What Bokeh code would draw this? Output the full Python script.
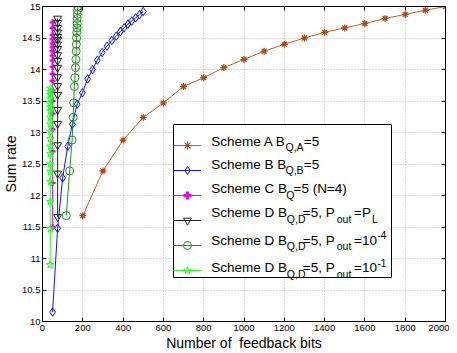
from bokeh.plotting import figure
from bokeh.models import (Range1d, FixedTicker, LinearAxis, Legend, LegendItem,
                          Label, CustomJSTickFormatter, BoxAnnotation)
from bokeh.embed import file_html
from bokeh.resources import INLINE

# ---------------- data ----------------
x_ticks = [0, 200, 400, 600, 800, 1000, 1200, 1400, 1600, 1800, 2000]
y_ticks = [10, 10.5, 11, 11.5, 12, 12.5, 13, 13.5, 14, 14.5, 15]
y_tick_labels = ["10", "10.5", "11", "11.5", "12", "12.5", "13", "13.5", "14", "14.5", "15"]

scheme_a_bits = [200, 300, 400, 500, 600, 700, 800, 900, 1000, 1100, 1200, 1300,
                 1400, 1500, 1600, 1700, 1800, 1900, 2000]
scheme_a_rate = [11.68, 12.39, 12.88, 13.24, 13.47, 13.73, 13.87, 14.03, 14.16, 14.29,
                 14.40, 14.50, 14.59, 14.66, 14.73, 14.81, 14.875, 14.94, 15.0]

scheme_b_bits = [50, 75, 100, 125, 148, 172, 198, 224, 248, 272, 296, 320, 344, 366,
                 386, 405, 424, 443, 462, 481, 500]
scheme_b_rate = [10.15, 11.48, 12.28, 12.78, 13.13, 13.45, 13.63, 13.85, 14.0, 14.15,
                 14.27, 14.37, 14.46, 14.53, 14.6, 14.66, 14.72, 14.77, 14.82, 14.87, 14.92]

scheme_c_bits = [50, 50, 50, 50, 50, 50, 50, 50, 50, 50, 50, 50, 50, 50, 50, 50, 50, 50, 50]
scheme_c_rate = [11.5, 12.2, 12.7, 13.05, 13.3, 13.5, 13.67, 13.82, 13.93, 14.04, 14.14,
                 14.22, 14.29, 14.35, 14.41, 14.48, 14.55, 14.66, 14.75]

scheme_d_pl_bits = [75, 75, 75, 75, 75, 75, 75, 75, 75, 75, 75, 75, 75, 75, 75, 75, 75, 75, 75]
scheme_d_pl_rate = [11.66, 12.35, 12.80, 13.14, 13.36, 13.60, 13.74, 13.88, 14.03, 14.14,
                    14.23, 14.33, 14.40, 14.47, 14.52, 14.59, 14.66, 14.74, 14.81]

scheme_d_e4_bits = [118, 135, 147, 152, 155, 158, 161, 164, 166, 167, 168, 169, 170, 171,
                    172, 172, 173, 174, 175]
scheme_d_e4_rate = [11.68, 12.39, 12.88, 13.24, 13.47, 13.73, 13.87, 14.03, 14.16, 14.29,
                    14.40, 14.50, 14.59, 14.66, 14.73, 14.81, 14.875, 14.94, 15.0]

scheme_d_e1_bits = [38, 39, 39, 39, 39, 39, 39, 39, 39, 39, 39, 39, 39, 39, 39, 39, 39, 39, 39]
scheme_d_e1_rate = [10.9, 11.47, 11.9, 12.22, 12.38, 12.5, 12.66, 12.78, 12.9, 13.02, 13.13,
                    13.24, 13.34, 13.4, 13.45, 13.54, 13.6, 13.65, 13.7]

# ---------------- style ----------------
FONT = "Liberation Sans"
C_A = "#c0602c"
C_B = "#1010ff"
C_C = "#f000f0"
C_DPL = "#202020"
C_D4 = "#1f901f"
C_D1 = "#22ff22"

p = figure(width=449, height=353, x_range=Range1d(0, 2000), y_range=Range1d(10, 15),
           output_backend="svg", toolbar_location=None,
           min_border_left=0, min_border_right=4, min_border_top=6, min_border_bottom=0)
p.background_fill_color = "white"
p.border_fill_color = "white"
p.outline_line_color = "black"
p.outline_line_width = 1

xt = FixedTicker(ticks=x_ticks, minor_ticks=[])
yt = FixedTicker(ticks=y_ticks, minor_ticks=[])
p.xaxis.ticker = xt
p.yaxis.ticker = yt
p.yaxis.major_label_overrides = {t: s for t, s in zip(y_ticks, y_tick_labels)}

for ax in (p.xaxis[0], p.yaxis[0]):
    ax.major_tick_in = 4
    ax.major_tick_out = 0
    ax.minor_tick_in = 0
    ax.minor_tick_out = 0
    ax.axis_line_color = "black"
    ax.major_tick_line_color = "black"
    ax.major_label_text_font = FONT
    ax.major_label_text_font_size = "9.5px"
    ax.major_label_text_color = "black"
    ax.axis_label_text_font = FONT
    ax.axis_label_text_font_size = "14px"
    ax.axis_label_text_font_style = "normal"
    ax.axis_label_text_color = "black"

p.xaxis.axis_label = "Number of\u00a0 feedback bits"
p.yaxis.axis_label = "Sum rate"
p.xaxis.major_label_standoff = 3
p.xaxis.axis_label_standoff = 1
p.yaxis.major_label_standoff = 2
p.yaxis.axis_label_standoff = 0

blank = CustomJSTickFormatter(code="return ''")
top_ax = LinearAxis(ticker=FixedTicker(ticks=x_ticks, minor_ticks=[]), formatter=blank,
                    major_tick_in=4, major_tick_out=0, minor_tick_in=0, minor_tick_out=0,
                    major_label_standoff=0, axis_line_color="black")
right_ax = LinearAxis(ticker=FixedTicker(ticks=y_ticks, minor_ticks=[]), formatter=blank,
                      major_tick_in=4, major_tick_out=0, minor_tick_in=0, minor_tick_out=0,
                      major_label_standoff=0, axis_line_color="black")
p.add_layout(top_ax, "above")
p.add_layout(right_ax, "right")

p.grid.grid_line_color = "#b4b4b4"
p.grid.grid_line_dash = "1 2"
p.grid.grid_line_width = 1
p.xgrid.ticker = xt
p.ygrid.ticker = yt

# ---------------- series ----------------
la = p.line(scheme_a_bits, scheme_a_rate, color=C_A, line_width=1)
p.scatter(scheme_a_bits, scheme_a_rate, marker="square", size=3.5, fill_color="#a0451f",
          line_color=None)
ma = p.scatter(scheme_a_bits, scheme_a_rate, marker="asterisk", size=7, color="#b04a1e",
               line_width=1.2)

lb = p.line(scheme_b_bits, scheme_b_rate, color=C_B, line_width=1)
mb = p.scatter(scheme_b_bits, scheme_b_rate, marker="diamond", size=8.5, fill_color=None,
               line_color=C_B, line_width=1)

lc = p.line(scheme_c_bits, scheme_c_rate, line_color=C_C, line_width=1)
mc = p.scatter(scheme_c_bits, scheme_c_rate, marker="plus", size=6, fill_color=C_C,
               line_color=None)

ld = p.line(scheme_d_pl_bits, scheme_d_pl_rate, color=C_DPL, line_width=1)
md = p.scatter(scheme_d_pl_bits, scheme_d_pl_rate, marker="inverted_triangle", size=8,
               fill_color=None, line_color=C_DPL, line_width=1)

le4 = p.line(scheme_d_e4_bits, scheme_d_e4_rate, color=C_D4, line_width=1)
me4 = p.scatter(scheme_d_e4_bits, scheme_d_e4_rate, marker="circle", size=8,
                fill_color=None, line_color=C_D4, line_width=1)

le1 = p.line(scheme_d_e1_bits, scheme_d_e1_rate, color=C_D1, line_width=1)
me1 = p.scatter(scheme_d_e1_bits, scheme_d_e1_rate, marker="star", size=8,
                fill_color=None, line_color=C_D1, line_width=1)

# ---------------- legend box, glyphs and texts ----------------
BOX_L, BOX_B, BOX_W, BOX_H = 131, 44, 218, 153
box = BoxAnnotation(left=BOX_L, right=BOX_L + BOX_W, bottom=BOX_B, top=BOX_B + BOX_H,
                    left_units="screen", right_units="screen",
                    bottom_units="screen", top_units="screen",
                    fill_color="white", fill_alpha=1.0,
                    line_color="black", line_width=1, line_alpha=1.0)
p.add_layout(box)

glyph_sets = ([la, ma], [lb, mb], [lc, mc], [ld, md], [le4, me4], [le1, me1])
legend = Legend(items=[LegendItem(label=" ", renderers=r) for r in glyph_sets],
                location=(BOX_L, BOX_B - 3), orientation="vertical",
                glyph_width=28, glyph_height=20, label_height=20, label_width=182,
                label_standoff=0, spacing=5, padding=4, margin=0,
                label_text_font_size="1px",
                border_line_color=None, background_fill_alpha=0.0,
                inactive_fill_alpha=0.0)
p.add_layout(legend, "center")

# offsets from the legend box's lower-left corner
rows = [
    (136.5, [(37.7, "Scheme A B", "m"), (112.0, "Q,A", "s"), (130.3, "=5", "m")]),
    (113.5, [(37.7, "Scheme B B", "m"), (112.0, "Q,B", "s"), (130.3, "=5", "m")]),
    (89.0, [(37.7, "Scheme C B", "m"), (112.7, "Q", "s"), (120.0, "=5 (N=4)", "m")]),
    (65.0, [(37.7, "Scheme D B", "m"), (113.3, "Q,D", "s"), (129.3, "=5, P", "m"),
            (163.2, "out", "s"), (180.5, "=P", "m"), (198.5, "L", "s")]),
    (37.5, [(37.7, "Scheme D B", "m"), (113.3, "Q,D", "s"), (129.3, "=5, P", "m"),
            (163.2, "out", "s"), (180.5, "=10", "m"), (204.0, "-4", "p")]),
    (10.0, [(37.7, "Scheme D B", "m"), (113.3, "Q,D", "s"), (129.3, "=5, P", "m"),
            (163.2, "out", "s"), (180.5, "=10", "m"), (204.0, "-1", "p")]),
]
sizes = {"m": "13.5px", "s": "10.5px", "p": "10px"}
shift = {"m": 0, "s": -6, "p": 5}
for base, segs in rows:
    for dx, txt, kind in segs:
        p.add_layout(Label(x=BOX_L + dx, y=BOX_B + base + shift[kind],
                           x_units="screen", y_units="screen", text=txt,
                           text_font=FONT, text_font_size=sizes[kind],
                           text_color="black", text_align="left",
                           text_baseline="alphabetic"))

open("out.html", "w").write(file_html(p, INLINE))
